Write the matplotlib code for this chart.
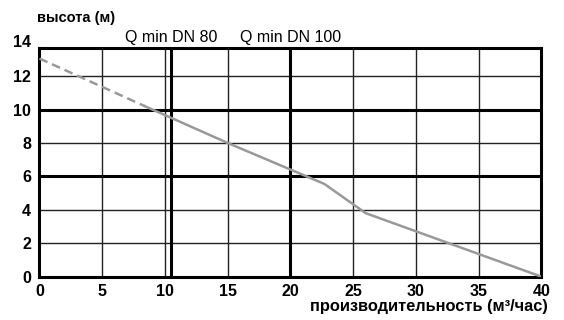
import numpy as np
import matplotlib.pyplot as plt

plt.rcParams['font.family'] = ['Liberation Sans', 'DejaVu Sans']

# Pump curve: dashed (outside working range) and solid part
dash_flow = [0, 8.4]
dash_head = [13.05, 10.2]
curve_flow = [8.4, 15, 22.7, 26, 40]
curve_head = [10.2, 8.0, 5.55, 3.8, 0]

# Minimum flow markers
qmin_flow = [10.5, 20]
qmin_labels = ['Q min DN 80', 'Q min DN 100']

x_ticks = [0, 5, 10, 15, 20, 25, 30, 35, 40]
y_ticks = [0, 2, 4, 6, 8, 10, 12]
thin_x = [5, 10, 15, 25, 30, 35]
thin_y = [2, 4, 8, 12]
thick_y = [6, 10]

fig = plt.figure(figsize=(5.64, 3.20), dpi=100)
ax = fig.add_axes([0.070, 0.1353, 0.890, 0.7157])

for x in thin_x:
    ax.axvline(x, color='#222222', lw=1.0, zorder=1)
for y in thin_y:
    ax.axhline(y, color='#222222', lw=1.0, zorder=1)
for y in thick_y:
    ax.axhline(y, color='black', lw=2.2, zorder=1)
for x, lab in zip(qmin_flow, qmin_labels):
    ax.axvline(x, color='black', lw=2.2, zorder=1)
    ax.text(x, 1.01, lab, transform=ax.get_xaxis_transform(),
            ha='center', va='bottom', fontsize=11.5)

ax.plot(dash_flow, dash_head, color='#999999', lw=1.8, dashes=(3.5, 2), zorder=3)
ax.plot(curve_flow, curve_head, color='#999999', lw=1.8, zorder=3)

ax.set_xlim(0, 40)
ax.set_ylim(0, 13.7)
ax.set_xticks(x_ticks)
ax.set_yticks(y_ticks)
ax.tick_params(length=0, labelsize=11.5)
ax.tick_params(axis='x', pad=5)
ax.tick_params(axis='y', pad=6)
for lab in ax.get_xticklabels() + ax.get_yticklabels():
    lab.set_fontweight('bold')
# top label "14" sits just above the frame
ax.text(-0.016, 14, '14', transform=ax.get_yaxis_transform(), ha='right',
        va='center', fontsize=11.5, fontweight='bold', clip_on=False)

for s in ax.spines.values():
    s.set_linewidth(2.2)
    s.set_color('black')

fig.text(0.066, 0.922, 'высота (м)', fontsize=10.5, fontweight='bold',
         ha='left', va='bottom')
fig.text(0.972, 0.018, 'производительность (м³/час)', fontsize=11.8,
         fontweight='bold', ha='right', va='bottom')

fig.savefig('out.png', dpi=100)
